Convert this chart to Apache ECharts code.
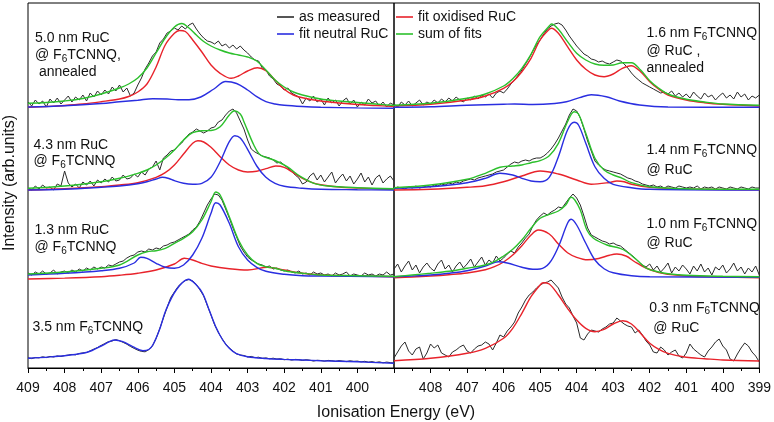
<!DOCTYPE html>
<html><head><meta charset="utf-8">
<script src="https://cdn.jsdelivr.net/npm/echarts@6/dist/echarts.min.js"></script>
<style>html,body{margin:0;padding:0;background:#fff}#c{width:774px;height:422px}</style>
</head><body><div id="c"></div>
<script>
// ---- measured spectra: energy grid start / step (eV), values relative to each spectrum's baseline
const E_START = 409, E_STEP = 0.1;
const xTicksLeft = [409,408,407,406,405,404,403,402,401,400];
const xTicksRight = [408,407,406,405,404,403,402,401,400,399];

// left panel offsets (top -> bottom): 5.0 nm RuC annealed, 4.3 nm RuC, 1.3 nm RuC, 3.5 nm F6TCNNQ
const leftOffsets = [259, 177, 89, 0];
// right panel offsets (top -> bottom): 1.6 nm annealed, 1.4 nm, 1.0 nm, 0.3 nm F6TCNNQ
const rightOffsets = [260, 177, 90, 0];

// ---------- Left panel ----------
const A_meas = [7,3,9,5,8,2,10,6,11,5, 9,13,7,12,9,14,8,16,12,18, 14,19,15,22,18,24,17,21,13,16,
 24,31,40,46,53,57,66,70,76,78, 81,79,83,80,84,86,80,75,71,68, 67,65,68,63,65,61,64,60,63,59,
 56,52,49,48,41,39,33,30,25,23, 19,21,16,14,12,5,11,8,13,7, 10,4,11,6,9,3,8,11,5,9, 2,7,4,10,6,8,3,7,2,6, 4];
const A_red = [[409,1.7],[408.5,2.5],[408,3.5],[407.5,5],[407,7.3],[406.5,10],[406.25,12.5],[406,17],[405.75,25],[405.5,42],[405.25,64],[405,75.7],[404.86,78.5],[404.7,77.5],[404.5,69],[404.25,57],[404,44],[403.75,35.7],[403.45,30.7],[403.25,33],[403,38],[402.73,41.3],[402.5,38.3],[402.25,29],[402,19.7],[401.75,14],[401.5,11.2],[401,8],[400.5,6],[400,4.5],[399.5,3.5],[399,2.5]];
const A_blue = [[409,2],[408,3.3],[407,5.5],[406.5,7.2],[406,8.8],[405.59,10.3],[405.2,10],[404.9,9.3],[404.6,9.3],[404.28,12],[403.92,20],[403.6,27.5],[403.3,25.5],[403,19],[402.75,12.3],[402.5,7.3],[402.25,5],[402,3.7],[401.5,2.5],[401,1.8],[400,1.1],[399,0.7]];
const A_green = [[409,5.7],[408.5,6.5],[408,8],[407.5,10.5],[407,15],[406.5,21],[406.25,25],[406,31],[405.75,41],[405.5,56],[405.25,71],[405,82],[404.8,85.5],[404.6,81],[404.4,74],[404.2,67.5],[404,63],[403.75,59],[403.5,56],[403.25,54],[403,52],[402.75,48],[402.5,39],[402.25,29],[402,22],[401.75,17],[401.5,14],[401,10],[400.5,8],[400,6.5],[399.5,5],[399,3.5]];

const B_meas = [3,1,5,2,6,3,4,1,7,5, 20,8,4,7,3,9,6,10,5,11, 8,12,9,14,10,11,16,12,13,17,
 14,19,16,22,24,30,21,33,36,40, 41,45,48,53,57,59,62,60,58,60, 63,64,69,71,76,80,82,78,70,62,
 51,42,39,37,35,34,33,31,28,29, 26,23,20,16,13,7,9,15,18,11, 16,9,14,19,8,13,17,10,15,7, 12,18,9,14,6,13,16,8,12,15, 10];
const B_red = [[409,1],[408,2.3],[407,4.3],[406.5,6],[406,8.3],[405.5,13.7],[405.25,18.3],[405,26],[404.75,37],[404.5,47.7],[404.36,50.3],[404.2,49],[404,43.7],[403.75,34.3],[403.5,26],[403.25,21],[403,19],[402.75,19.7],[402.5,22.3],[402.23,25],[402,23.7],[401.75,18.3],[401.5,12.7],[401.25,8.7],[401,6.3],[400.5,4],[400,3],[399.5,2.3],[399,1.7]];
const B_blue = [[409,1],[408,1.7],[407,3.7],[406.5,5],[406,7.3],[405.75,9.3],[405.5,12],[405.33,13.7],[405.15,12.5],[405,10.3],[404.75,7.7],[404.5,6.7],[404.25,7.7],[404,13.7],[403.75,29.3],[403.5,49.3],[403.35,55.3],[403.2,53],[403,41.7],[402.75,25],[402.5,13.7],[402.25,7.7],[402,4.7],[401.5,2.7],[401,1.7],[400,1.3],[399,1]];
const B_green = [[409,2.7],[408,5],[407,9.3],[406.5,12.7],[406,17.7],[405.75,21],[405.5,26],[405.25,32.7],[405,41],[404.75,51],[404.5,58.3],[404.25,60.3],[404,60.5],[403.75,64.3],[403.5,76],[403.36,80.3],[403.2,77],[403.1,69.3],[402.83,46],[402.65,36],[402.28,31],[401.92,24.3],[401.55,14.3],[401.19,7.7],[400.8,5],[400,3.3],[399,2.3]];

const C_meas = [6,4,7,5,8,5,6,9,5,7, 8,6,9,7,10,8,11,9,12,10, 12,11,14,13,15,17,18,21,23,24,
 27,28,27,30,29,31,30,33,34,36, 37,39,41,43,45,49,52,58,66,74, 80,85,84,79,70,61,51,42,33,27,
 22,19,17,15,14,12,13,10,11,9, 8,9,7,6,8,5,6,4,7,5, 6,4,5,3,6,4,5,7,3,5, 4,3,6,4,5,3,5,4,7,4, 5];
const C_red = [[409,0],[408,0.9],[407,2.3],[406.5,3.7],[406,5.7],[405.5,9],[405,15],[404.73,20.7],[404.5,19],[404.25,15.7],[404,13],[403.5,10.3],[403,9],[402.45,11.7],[402,9],[401.5,5.7],[401,4],[400,3],[399,2.3]];
const C_blue = [[409,4],[408,5.7],[407,8.3],[406.5,10.7],[406.1,16],[405.92,21.7],[405.75,20.7],[405.5,15.7],[405.25,11.7],[405,10.7],[404.75,14],[404.5,24],[404.25,40.7],[404,65.7],[403.87,76.3],[403.75,74],[403.5,55.7],[403.25,32.3],[403,19],[402.75,11.7],[402.5,7.7],[402,4.7],[401.5,3.3],[401,3],[399,2.3]];
const C_green = [[409,5],[408,7],[407,10.7],[406.5,14],[406,24],[405.75,27.3],[405.5,28.3],[405.25,30.7],[405,35.7],[404.75,40.7],[404.5,47.3],[404.25,59],[404,77.3],[403.87,87],[403.75,84],[403.5,62.3],[403.25,39],[403,24],[402.75,15.7],[402.5,12.3],[402.25,10.7],[402,8.3],[401.5,5.7],[401,4],[400,3.3],[399,2.7]];

const D_meas = [10.2,9.4,10.5,10.1,11.2,10.4,11.6,11,12.1,11.5, 12.4,12.9,13.6,13.2,14.5,15.1,15.5,17.2,18.9,20.5,
 22.6,24.5,26.4,27,28.4,27.2,25.6,23.8,21.5,19.6, 17.8,16.6,16.2,18.3,22,29.5,39.5,50,60.5,70.5,
 76,81.5,85,87.5,88.5,87,83.5,78,72,62.5, 53,43,35.5,29.5,24,20,17,14,13,12.5,
 11,11.6,10.3,10.8,9.6,10.1,9.2,9.8,8.9,9.3, 8.2,8.9,7.9,8.6,8.4,7.5,8.3,7.8,6.9,7.7,
 7.5,6.8,7.6,7.3,6.6,7.4,6.9,6.4,7.2,6.6, 6.9,6.1,6.7,5.8,6.4,5.5,6.2,5.2,5.9,5.4, 4.9];
const D_blue = [[409,9.7],[408.5,10.8],[408,12.2],[407.5,14.7],[407.25,17.5],[407,22],[406.77,26.3],[406.64,28],[406.41,26.3],[406.14,21.3],[405.86,17.3],[405.7,18.5],[405.59,23],[405.41,38],[405.23,58],[404.95,78],[404.62,88.7],[404.4,83],[404.23,74.7],[404.05,58],[403.87,41.3],[403.68,28],[403.5,19.7],[403.32,14.7],[403,11.3],[402.5,9.5],[402,8.6],[401.5,8],[401,7.3],[400,6.2],[399,4.8]];

// ---------- Right panel ----------
const E_meas = [4,1,6,3,7,2,5,8,3,6, 4,8,5,9,6,10,7,11,8,6, 10,8,12,9,13,11,14,10,15,17,
 15,19,24,28,33,38,44,50,57,63, 68,74,79,82,84,85,83,78,72,67, 62,58,54,52,49,48,46,47,45,44,
 46,48,47,44,40,35,31,28,25,23, 21,19,17,15,16,14,17,12,15,11, 14,10,16,12,9,15,11,13,8,12, 15,10,13,9,16,11,14,8,12,10, 13];
const E_red = [[409,2],[408,3.7],[407,8],[406.5,12],[406,19.7],[405.75,26.3],[405.5,36.3],[405.25,49.7],[405,68],[404.75,78.7],[404.69,79.7],[404.5,74.7],[404.25,61.3],[404,48],[403.75,38.7],[403.5,33],[403.25,31.3],[403,34],[402.75,39.7],[402.51,42.3],[402.25,36.3],[402,26.3],[401.75,18.7],[401.5,13],[401,8],[400.5,5.3],[400,3.7],[399,2]];
const E_blue = [[409,0.7],[408,1.3],[407,2.7],[406,3.7],[405.7,4],[405.2,3.5],[404.6,4.5],[404.28,6.3],[403.92,10.3],[403.6,13.3],[403.19,11.3],[402.83,7],[402.28,3],[401.5,1],[399,0.7]];
const E_green = [[409,2.7],[408,4.7],[407,9.7],[406.5,14],[406,22],[405.75,29.3],[405.5,39.7],[405.25,53.7],[405,71.3],[404.75,82],[404.69,84],[404.5,78.7],[404.25,66.3],[404,54.7],[403.75,48],[403.5,44],[403.25,42.7],[403,43],[402.75,45.3],[402.5,45.3],[402.25,38],[402,27.3],[401.75,19.7],[401.5,14],[401,8.7],[400.5,6],[400,4],[399,2.7]];

const F_meas = [2,4,3,2,4,3,5,3,4,5, 4,6,5,7,6,8,7,9,8,10, 11,12,11,13,14,15,16,17,19,20,
 21,24,27,29,28,30,31,30,32,33, 33,35,38,42,47,53,60,67,76,82, 80,73,62,50,40,30,26,23,21,20,
 19,18,17,15,13,12,10,9,7,6, 5,6,4,5,3,5,4,3,5,4, 3,4,3,5,2,4,3,4,2,4, 3,2,4,3,2,4,3,2,4,3, 3];
const F_red = [[409,1],[408,1.7],[407,3.7],[406.5,5.3],[406,9.3],[405.5,15],[405,20],[404.5,17],[404,11],[403.6,6.8],[403.1,8.5],[402.9,10],[402.7,9.3],[402.5,6.7],[402,3.7],[401,2],[399,1.3]];
const F_blue = [[409,2.7],[408,4.3],[407,8.3],[406.5,12.7],[406.1,17.7],[405.75,16],[405.5,12.7],[405.25,10],[405,9.3],[404.75,13.7],[404.5,34.3],[404.25,61],[404.07,68.7],[403.95,66],[403.75,47.7],[403.5,24.3],[403.25,12.7],[403,6.7],[402.5,3.3],[402,1.7],[399,1]];
const F_green = [[409,3.3],[408,6],[407,11.7],[406.5,17.7],[406.1,23.7],[405.75,25],[405.5,26],[405.25,28.3],[405,30.3],[404.75,35.3],[404.5,47.7],[404.25,69.3],[404.07,79.3],[403.95,77],[403.75,57.7],[403.5,32.7],[403.25,21],[403,16],[402.75,12.7],[402.5,8.3],[402,4.3],[401,2.3],[399,1.7]];

const G_meas = [9,14,6,12,17,8,13,5,11,15, 10,7,14,18,9,13,6,12,16,10, 14,19,11,16,21,13,18,15,22,17,
 20,24,27,25,31,35,40,44,52,58, 62,65,63,66,68,71,70,75,80,84, 80,73,62,50,43,41,39,37,36,34,
 35,33,32,29,26,23,20,16,13,11, 14,8,12,6,10,15,5,11,7,13, 9,4,12,7,14,6,10,3,11,8, 13,5,9,15,7,11,4,10,6,12, 3];
const G_red = [[409,0.3],[408.5,1],[408,2],[407.5,3.3],[407,5],[406.5,8.3],[406.25,11.3],[406,16],[405.75,23],[405.5,32.3],[405.25,43],[405.05,48],[404.75,44],[404.5,34],[404.25,25.3],[404,20.7],[403.7,18.2],[403.4,19.5],[403.1,22.8],[402.9,24],[402.65,22],[402.4,16],[402.1,10],[401.75,5.3],[401.5,3.7],[401,2],[400,1],[399,0.3]];
const G_blue = [[409,1.3],[408.5,2],[408,3],[407.5,4.7],[407,7.3],[406.5,12],[406.14,16.3],[405.9,15],[405.5,10.7],[405.2,8.7],[405,9],[404.75,14.7],[404.5,31.3],[404.25,54.7],[404.15,58.7],[404,53],[403.75,34.7],[403.5,18],[403.25,9.3],[403,5.3],[402.5,2.3],[402,1.3],[399,0.7]];
const G_green = [[409,1.3],[408.5,3],[408,4.7],[407.5,6.7],[407,9.7],[406.5,13],[406.25,16.3],[406,22],[405.75,28.7],[405.5,38],[405.25,49.7],[405,59.7],[404.75,63.7],[404.5,67],[404.3,73],[404.15,80.7],[404.05,78],[403.9,68],[403.72,48],[403.54,39.7],[403.17,33],[402.81,29.7],[402.63,26.3],[402.35,18],[402.08,9.7],[401.75,6],[401.5,4.3],[401,2.7],[400,1.7],[399,1.3]];

const H_meas = [10,16,22,26,17,13,19,21,9,15, 24,20,23,15,13,11,16,18,21,23, 17,15,19,22,23,26,24,18,25,33,
 31,37,41,46,55,61,68,73,76,80, 83,85,86,88,84,80,71,64,60,52, 45,30,28,34,38,37,36,39,41,44,
 45,50,47,44,42,41,35,38,33,27, 23,16,15,21,18,13,16,18,12,10, 15,24,19,16,13,11,17,21,26,29, 22,18,9,7,14,20,25,22,16,12, 6];
const H_red = [[409,7.3],[408,9.7],[407,14.7],[406.5,19.7],[406,29.7],[405.75,39.7],[405.5,54.7],[405.25,71.3],[405,83],[404.92,85.3],[404.75,84],[404.5,73],[404.25,59.7],[404,48],[403.75,39.7],[403.5,36.3],[403.25,38.7],[403,44],[402.74,47.3],[402.5,44],[402.25,34.7],[402,24.7],[401.75,18.7],[401.5,14.7],[401,10.7],[400.5,9.3],[400,8],[399,7]];

// ---------- labels ----------
const leftLabels = [
  ['5.0 nm RuC', '@ F{s|6}TCNNQ,', ' annealed'],
  ['4.3 nm RuC', '@ F{s|6}TCNNQ'],
  ['1.3 nm RuC', '@ F{s|6}TCNNQ'],
  ['3.5 nm F{s|6}TCNNQ']
];
const rightLabels = [
  ['1.6 nm F{s|6}TCNNQ', '@ RuC ,', 'annealed'],
  ['1.4 nm F{s|6}TCNNQ', '@ RuC'],
  ['1.0 nm F{s|6}TCNNQ', '@ RuC'],
  ['0.3 nm F{s|6}TCNNQ', ' @ RuC']
];

// ---------- styling / layout ----------
const FONT = "'Liberation Sans', Arial, sans-serif";
const COL = {meas:'#2b2b2b', red:'#e8232b', blue:'#2a2ee0', green:'#2cc02c'};
const NAMES = {meas:'as measured', red:'fit oxidised RuC', blue:'fit neutral RuC', green:'sum of fits'};

function measData(vals, off){ return vals.map((v,i)=>[+(E_START - i*E_STEP).toFixed(2), v+off]); }
function fitData(pairs, off){ return pairs.map(p=>[p[0], p[1]+off]); }

const series = [];
function addMeas(vals, off, ax){
  series.push({type:'line', name:NAMES.meas, xAxisIndex:ax, yAxisIndex:ax, data:measData(vals,off),
    symbol:'none', showSymbol:false, z:2, lineStyle:{color:COL.meas, width:1}, itemStyle:{color:COL.meas}, animation:false});
}
function addFit(pairs, off, ax, kind){
  series.push({type:'line', name:NAMES[kind], xAxisIndex:ax, yAxisIndex:ax, data:fitData(pairs,off),
    symbol:'none', showSymbol:false, smooth:0.35, z:3, lineStyle:{color:COL[kind], width:1.4}, itemStyle:{color:COL[kind]}, animation:false});
}
// left
addMeas(A_meas, leftOffsets[0], 0); addFit(A_red, leftOffsets[0], 0, 'red'); addFit(A_blue, leftOffsets[0], 0, 'blue'); addFit(A_green, leftOffsets[0], 0, 'green');
addMeas(B_meas, leftOffsets[1], 0); addFit(B_red, leftOffsets[1], 0, 'red'); addFit(B_blue, leftOffsets[1], 0, 'blue'); addFit(B_green, leftOffsets[1], 0, 'green');
addMeas(C_meas, leftOffsets[2], 0); addFit(C_red, leftOffsets[2], 0, 'red'); addFit(C_blue, leftOffsets[2], 0, 'blue'); addFit(C_green, leftOffsets[2], 0, 'green');
addMeas(D_meas, leftOffsets[3], 0); addFit(D_blue, leftOffsets[3], 0, 'blue');
// right
addMeas(E_meas, rightOffsets[0], 1); addFit(E_red, rightOffsets[0], 1, 'red'); addFit(E_blue, rightOffsets[0], 1, 'blue'); addFit(E_green, rightOffsets[0], 1, 'green');
addMeas(F_meas, rightOffsets[1], 1); addFit(F_red, rightOffsets[1], 1, 'red'); addFit(F_blue, rightOffsets[1], 1, 'blue'); addFit(F_green, rightOffsets[1], 1, 'green');
addMeas(G_meas, rightOffsets[2], 1); addFit(G_red, rightOffsets[2], 1, 'red'); addFit(G_blue, rightOffsets[2], 1, 'blue'); addFit(G_green, rightOffsets[2], 1, 'green');
addMeas(H_meas, rightOffsets[3], 1); addFit(H_red, rightOffsets[3], 1, 'red');

// label anchor points (px): left x, centre y of each text line
const leftLabelPos = [[35,[38.5,55,72]], [33.5,[145,161.5]], [34.5,[230.5,247]], [32.5,[327.5]]];
const rightLabelPos = [[646.5,[33.5,51,68]], [646.5,[150.5,170.5]], [646.5,[223.8,243.3]], [649.3,[307.7,327.7]]];

const rich = {s:{fontSize:10, fontFamily:FONT, fill:'#111', color:'#111', padding:[8,0,0,0], verticalAlign:'bottom'}};
const graphics = [];
function addLabels(labels, pos){
  labels.forEach((lines, k)=>{
    lines.forEach((t, j)=>{
      graphics.push({type:'text', x:pos[k][0], y:pos[k][1][j], silent:true,
        style:{text:t, fill:'#111', fontSize:14, fontFamily:FONT, lineHeight:18,
          align:'left', verticalAlign:'middle', textAlign:'left', textVerticalAlign:'middle', rich:rich}});
    });
  });
}
addLabels(leftLabels, leftLabelPos);
addLabels(rightLabels, rightLabelPos);
graphics.push({type:'text', x:396, y:413, silent:true, style:{text:'Ionisation Energy (eV)', fill:'#111', fontSize:16, fontFamily:FONT,
  align:'center', verticalAlign:'middle', textAlign:'center', textVerticalAlign:'middle'}});
graphics.push({type:'text', x:10, y:183, rotation:Math.PI/2, silent:true, style:{text:'Intensity (arb.units)', fill:'#111', fontSize:16, fontFamily:FONT,
  align:'center', verticalAlign:'middle', textAlign:'center', textVerticalAlign:'middle'}});

function xAxis(idx, hideVal){
  return {type:'value', gridIndex:idx, min:399, max:409, interval:1, inverse:true,
    axisLine:{show:true, onZero:false, lineStyle:{color:'#000', width:1}},
    axisTick:{show:true, inside:false, length:5, lineStyle:{color:'#000'}},
    minorTick:{show:true, splitNumber:2, length:3, lineStyle:{color:'#000'}},
    splitLine:{show:false}, minorSplitLine:{show:false},
    axisLabel:{show:true, margin:13, color:'#111', fontSize:14, fontFamily:FONT,
      formatter:v=> (v===hideVal ? '' : String(v))}};
}

const chart = echarts.init(document.getElementById('c'), null, {renderer:'canvas'});
chart.setOption({
  animation:false,
  backgroundColor:'#fff',
  grid:[
    {left:28, top:3, width:366, height:365, show:true, borderColor:'#000', borderWidth:1, backgroundColor:'transparent'},
    {left:394, top:3, width:366, height:365, show:true, borderColor:'#000', borderWidth:1, backgroundColor:'transparent'}
  ],
  xAxis:[xAxis(0, 399), xAxis(1, 409)],
  yAxis:[
    {type:'value', gridIndex:0, min:0, max:365, show:false},
    {type:'value', gridIndex:1, min:0, max:365, show:false}
  ],
  legend:[
    {data:[NAMES.meas, NAMES.blue], orient:'vertical', left:277, top:10, padding:0, itemGap:3, itemWidth:17, itemHeight:1.6, icon:'rect',
      textStyle:{fontSize:14, fontFamily:FONT, color:'#111'}, selectedMode:true},
    {data:[NAMES.red, NAMES.green], orient:'vertical', left:396, top:10, padding:0, itemGap:3, itemWidth:17, itemHeight:1.6, icon:'rect',
      textStyle:{fontSize:14, fontFamily:FONT, color:'#111'}, selectedMode:true}
  ],
  graphic:graphics,
  series:series
});
</script></body></html>
